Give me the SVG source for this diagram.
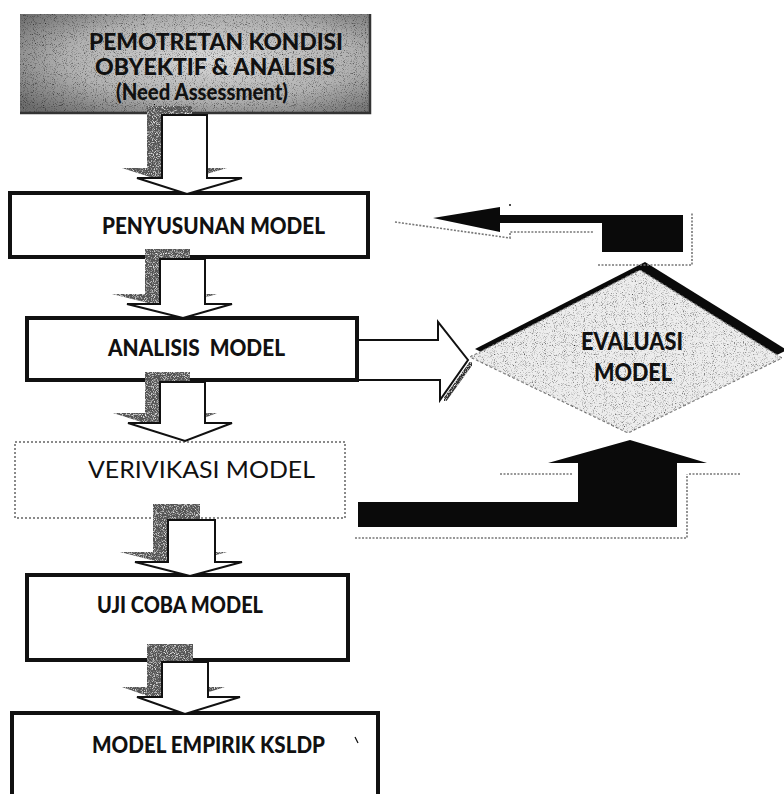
<svg xmlns="http://www.w3.org/2000/svg" width="784" height="794" viewBox="0 0 784 794">
<defs>
<style>
.lbl{font-family:Lato,"Open Sans","Liberation Sans",sans-serif;font-weight:900;font-size:22px;fill:#111}
.reg{font-family:Lato,"Open Sans","Liberation Sans",sans-serif;font-weight:normal;font-size:24px;fill:#111}
.box{fill:#fff;stroke:#111;stroke-width:4}
.harrow{fill:#fff;stroke:#111;stroke-width:2;stroke-linejoin:miter}
.shadow{fill:#555}
.dots{fill:none;stroke:#777;stroke-width:1.6;stroke-dasharray:2 1.5}
.solid{fill:#0a0a0a}
</style>
<radialGradient id="g1" cx="0.55" cy="0.45" r="0.7">
<stop offset="0" stop-color="#d9d9d9"/>
<stop offset="0.6" stop-color="#b0b0b0"/>
<stop offset="1" stop-color="#6e6e6e"/>
</radialGradient>
<filter id="darkDots" x="0" y="0" width="100%" height="100%">
<feTurbulence type="fractalNoise" baseFrequency="1.1" numOctaves="1" seed="4" result="n"/>
<feColorMatrix in="n" type="matrix" values="0 0 0 0 0  0 0 0 0 0  0 0 0 0 0  3 0 0 0 -1.55" result="b"/>
<feComposite in="b" in2="SourceGraphic" operator="in" result="bd"/>
<feMerge><feMergeNode in="SourceGraphic"/><feMergeNode in="bd"/></feMerge>
</filter>
<filter id="lightDots" x="0" y="0" width="100%" height="100%">
<feTurbulence type="fractalNoise" baseFrequency="1.1" numOctaves="1" seed="7" result="n"/>
<feColorMatrix in="n" type="matrix" values="0 0 0 0 1  0 0 0 0 1  0 0 0 0 1  3 0 0 0 -1.5" result="w"/>
<feComposite in="w" in2="SourceGraphic" operator="in" result="wd"/>
<feMerge><feMergeNode in="SourceGraphic"/><feMergeNode in="wd"/></feMerge>
</filter>
</defs>
<rect x="0" y="0" width="784" height="794" fill="#fff"/>

<g id="node-pemotretan">
<rect x="20" y="14" width="350" height="100" fill="url(#g1)" filter="url(#darkDots)"/>
<path d="M20 113 H370 V14" fill="none" stroke="#333" stroke-width="2.5"/>
<text class="lbl" x="89" y="50" textLength="254" lengthAdjust="spacingAndGlyphs">PEMOTRETAN KONDISI</text>
<text class="lbl" x="95" y="75" textLength="240" lengthAdjust="spacingAndGlyphs">OBYEKTIF &amp; ANALISIS</text>
<text class="lbl" x="116" y="100" textLength="172" lengthAdjust="spacingAndGlyphs">(Need Assessment)</text>
</g>

<g id="node-penyusunan">
<rect class="box" x="10" y="193" width="358" height="64"/>
<text class="lbl" x="102" y="234" textLength="223" lengthAdjust="spacingAndGlyphs">PENYUSUNAN MODEL</text>
</g>

<g id="node-analisis">
<rect class="box" x="27" y="318" width="330" height="62"/>
<text class="lbl" x="108" y="356" textLength="177" lengthAdjust="spacingAndGlyphs" style="white-space:pre">ANALISIS  MODEL</text>
</g>

<g id="node-verivikasi">
<rect x="15" y="442" width="330" height="76" fill="#fff" stroke="#8a8a8a" stroke-width="2" stroke-dasharray="2 2"/>
<text class="reg" x="88" y="478" textLength="227" lengthAdjust="spacingAndGlyphs">VERIVIKASI MODEL</text>
</g>

<g id="node-ujicoba">
<rect class="box" x="27" y="575" width="321" height="85"/>
<text class="lbl" x="97" y="613" textLength="166" lengthAdjust="spacingAndGlyphs">UJI COBA MODEL</text>
</g>

<g id="node-empirik">
<rect class="box" x="12" y="713" width="366" height="90"/>
<text class="lbl" x="92" y="753" textLength="233" lengthAdjust="spacingAndGlyphs">MODEL EMPIRIK KSLDP</text>
<path d="M355 737 L358 743" stroke="#111" stroke-width="1.2"/>
</g>

<g id="node-evaluasi">
<polygon points="475,349 645,262 787,350 633,425" fill="#0a0a0a"/>
<polygon points="470,357 640,270 782,358 628,433" fill="#ededed" stroke="#8a8a8a" stroke-width="1.2" stroke-dasharray="3 2" filter="url(#darkDots)"/>
<text class="lbl" x="581" y="350" textLength="102" lengthAdjust="spacingAndGlyphs" style="font-size:25px">EVALUASI</text>
<text class="lbl" x="594" y="381" textLength="78" lengthAdjust="spacingAndGlyphs" style="font-size:25px">MODEL</text>
</g>

<g id="connectors">
<g filter="url(#lightDots)">
<polygon class="shadow" points="147,106 192,106 192,168 227,168 172,184 122,168 147,168"/>
<polygon class="shadow" points="145,249 190,249 190,294 217,294 168,308 112,294 145,294"/>
<polygon class="shadow" points="145,372 190,372 190,413 217,413 170,431 113,413 145,413"/>
<polygon class="shadow" points="153,504 200,504 200,552 227,552 175,566 120,552 153,552"/>
<polygon class="shadow" points="147,644 193,644 193,687 225,687 170,704 122,687 147,687"/>
</g>
<polygon class="harrow" points="162,115 207,115 207,178 242,178 187,194 137,178 162,178"/>
<polygon class="harrow" points="160,259 205,259 205,304 232,304 183,318 127,304 160,304"/>
<polygon class="harrow" points="160,382 205,382 205,423 232,423 185,441 128,423 160,423"/>
<polygon class="harrow" points="168,520 215,520 215,562 242,562 190,576 135,562 168,562"/>
<polygon class="harrow" points="162,662 208,662 208,697 240,697 185,714 137,697 162,697"/>

<path d="M444 401 L472 362" stroke="#333" stroke-width="4" filter="url(#lightDots)"/>
<polygon class="harrow" points="358,340 438,340 438,322 468,360 440,400 440,380 358,380"/>

<polyline class="dots" points="355,538 687,538 687,474"/>
<line class="dots" x1="500" y1="474" x2="572" y2="474"/>
<line class="dots" x1="689" y1="474" x2="740" y2="474"/>
<polygon class="solid" points="358,502 578,502 578,463 548,463 630,440 707,463 677,463 677,527 358,527"/>

<polyline class="dots" points="395,222 510,238 510,232 593,232"/>
<polyline class="dots" points="598,265 692,265 692,213"/>
<polygon class="solid" points="433,218 500,207 500,215 683,215 683,252 602,252 602,223 500,223 500,232"/>
<circle cx="510" cy="205" r="1" fill="#111"/>
</g>
</svg>
